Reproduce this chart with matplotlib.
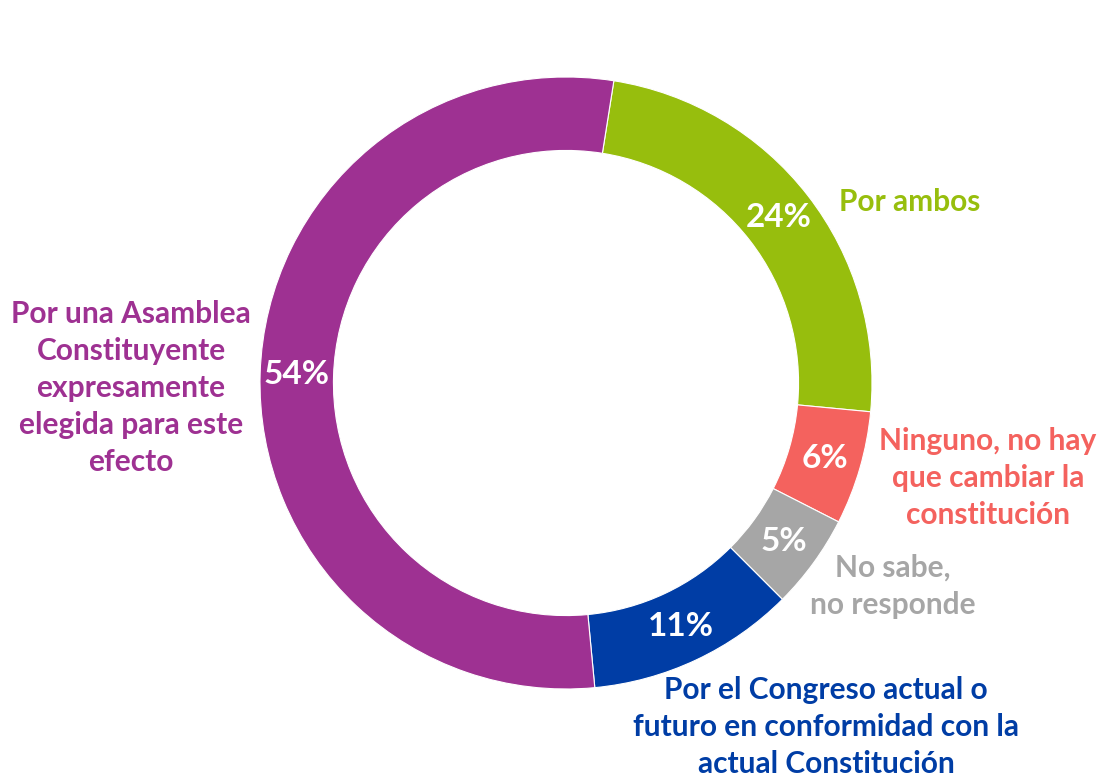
import matplotlib
matplotlib.use("Agg")
import matplotlib.pyplot as plt

categories = ["Por ambos",
              "Ninguno, no hay\nque cambiar la\nconstitución",
              "No sabe,\nno responde",
              "Por el Congreso actual o\nfuturo en conformidad con la\nactual Constitución",
              "Por una Asamblea\nConstituyente\nexpresamente\nelegida para este\nefecto"]
values = [24, 6, 5, 11, 54]
colors = ["#97BE0D", "#F4625E", "#A6A6A6", "#003DA5", "#9E3192"]
label_colors = ["#97BE0D", "#F4625E", "#A6A6A6", "#003DA5", "#9E3192"]

plt.rcParams['font.family'] = ['Lato', 'DejaVu Sans']

fig = plt.figure(figsize=(11.02, 7.80), dpi=100)
ax = fig.add_axes([0, 0, 1, 1])
H = 780
cx, cy, R = 566, H - 383, 306

wedges, texts, autotexts = ax.pie(
    values, colors=colors, startangle=81, counterclock=False,
    center=(cx, cy), radius=R, autopct=lambda p: f"{p:.0f}%",
    pctdistance=0.88, wedgeprops=dict(width=0.24 * R, edgecolor="white", linewidth=0.8),
    textprops=dict(color="white", fontsize=24, fontweight="bold"))

label_pos = [(910, 202), (988, 478), (893, 586), (826, 727), (131, 388)]
for txt, col, (x, y) in zip(categories, label_colors, label_pos):
    ax.text(x, H - y, txt, color=col, fontsize=21.5, fontweight="bold",
            ha="center", va="center", linespacing=1.4)

ax.set_xlim(0, 1102)
ax.set_ylim(0, H)
ax.set_aspect("equal")
ax.axis("off")
fig.savefig("out.png", dpi=100, facecolor="white")
